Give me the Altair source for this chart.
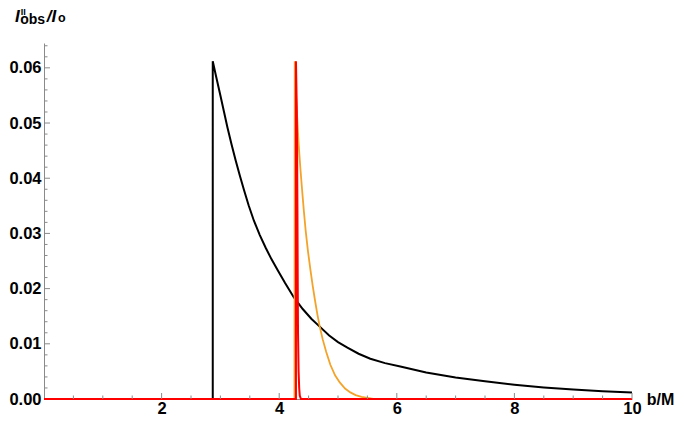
import altair as alt
import pandas as pd

# ---- data ----
black_b = [0.0, 2.87, 2.87, 2.93, 3.00, 3.06, 3.12, 3.19, 3.26, 3.33, 3.40, 3.48, 3.57, 3.67,
           3.77, 3.87, 3.97, 4.10, 4.25, 4.40, 4.55, 4.68, 4.85, 5.00, 5.16, 5.35, 5.55,
           5.80, 6.06, 6.50, 7.00, 7.50, 8.00, 8.50, 9.00, 9.50, 10.0]
black_v = [0.0, 0.0, 0.0612, 0.0583, 0.0550, 0.0521, 0.0492, 0.0461, 0.0432, 0.0405, 0.0379,
           0.0351, 0.0323, 0.0297, 0.0274, 0.0253, 0.0234, 0.0210, 0.0184, 0.0163, 0.0145,
           0.0132, 0.0115, 0.0103, 0.0093, 0.0082, 0.0073, 0.0065, 0.0059, 0.0048, 0.0039,
           0.0032, 0.0026, 0.0021, 0.0017, 0.0014, 0.0012]

orange_b = [0.0, 4.26, 4.265, 4.28, 4.30, 4.33, 4.36, 4.39, 4.42, 4.45, 4.49, 4.53, 4.57,
            4.61, 4.65, 4.69, 4.74, 4.80, 4.87, 4.95, 5.03, 5.12, 5.21, 5.30, 5.40, 5.50,
            5.60, 10.0]
orange_v = [0.0, 0.0, 0.0612, 0.0566, 0.0522, 0.0463, 0.0418, 0.0378, 0.0340, 0.0305, 0.0267,
            0.0235, 0.0205, 0.0178, 0.0153, 0.0131, 0.0108, 0.0085, 0.0062, 0.0043, 0.0030,
            0.0019, 0.0012, 0.0007, 0.0004, 0.0002, 0.0, 0.0]

red_b = [0.0, 4.285, 4.285, 4.30, 4.31, 4.315, 4.32, 4.33, 4.34, 4.35, 4.37, 10.0]
red_v = [0.0, 0.0, 0.0612, 0.052, 0.035, 0.022, 0.012, 0.005, 0.002, 0.0006, 0.0, 0.0]

x_major = [2, 4, 6, 8, 10]
x_minor = [0.5, 1.0, 1.5, 2.5, 3.0, 3.5, 4.5, 5.0, 5.5, 6.5, 7.0, 7.5, 8.5, 9.0, 9.5]
y_labels = [0.0, 0.01, 0.02, 0.03, 0.04, 0.05, 0.06]
y_major = [0.01, 0.02, 0.03, 0.04, 0.05, 0.06]
y_minor = [0.002, 0.004, 0.006, 0.008, 0.012, 0.014, 0.016, 0.018, 0.022, 0.024, 0.026,
           0.028, 0.032, 0.034, 0.036, 0.038, 0.042, 0.044, 0.046, 0.048, 0.052, 0.054,
           0.056, 0.058, 0.062, 0.064]

series_names = ["black", "orange", "red"]
series_colors = ["#000000", "#F4A32A", "#FF0000"]
series_widths = [2.0, 1.8, 2.0]

# ---- build tables ----
rows = []
for name, bs, vs in zip(series_names, [black_b, orange_b, red_b], [black_v, orange_v, red_v]):
    for i, (b, v) in enumerate(zip(bs, vs)):
        rows.append({"b": b, "v": v, "series": name, "idx": i})
df = pd.DataFrame(rows)

W, H = 588, 356
FONT = "Liberation Sans"
GRAY = "#8a8a8a"

xscale = alt.Scale(domain=[0, 10], nice=False, zero=False)
yscale = alt.Scale(domain=[0, 0.0645], nice=False, zero=False)

x_axis = alt.Axis(values=x_major, ticks=False, grid=False, domainColor=GRAY, domainWidth=1,
                  labelFont=FONT, labelFontSize=16.5, labelFontWeight="bold",
                  labelColor="#000000", labelPadding=1.5, labelFlush=False)
y_axis = alt.Axis(values=y_labels, format=".2f", ticks=False, grid=False, domainColor=GRAY,
                  domainWidth=1, labelFont=FONT, labelFontSize=16.5, labelFontWeight="bold",
                  labelColor="#000000", labelPadding=3, labelFlush=False)

base = alt.Chart(df)
lines = []
for name, col, w in zip(series_names, series_colors, series_widths):
    lines.append(
        base.transform_filter(alt.datum.series == name)
        .mark_line(color=col, strokeWidth=w, strokeJoin="miter")
        .encode(
            x=alt.X("b:Q", scale=xscale, axis=x_axis, title=None),
            y=alt.Y("v:Q", scale=yscale, axis=y_axis, title=None),
            order="idx:Q",
        )
    )

def xticks(vals, length):
    return alt.Chart(pd.DataFrame({"b": vals})).mark_rule(color=GRAY, strokeWidth=1).encode(
        x=alt.X("b:Q", scale=xscale, axis=x_axis, title=None),
        y=alt.value(H), y2=alt.value(H - length))

def yticks(vals, length):
    return alt.Chart(pd.DataFrame({"v": vals})).mark_rule(color=GRAY, strokeWidth=1).encode(
        y=alt.Y("v:Q", scale=yscale, axis=y_axis, title=None),
        x=alt.value(0), x2=alt.value(length))

def label(text, x, y, size, italic=False):
    return alt.Chart(pd.DataFrame({"t": [text]})).mark_text(
        font=FONT, fontSize=size, fontWeight="bold",
        fontStyle="italic" if italic else "normal",
        align="left", baseline="alphabetic", color="#000000"
    ).encode(text="t:N", x=alt.value(x), y=alt.value(y))

texts = [
    label("I", -29.0, -20.8, 17, italic=True),
    label("II", -23.3, -28.3, 9),
    label("obs", -23.8, -19.3, 14),
    label("/I", 2.7, -21.3, 17, italic=True),
    label("o", 13.9, -21.3, 12.5),
    label("b/M", 602.7, 361.5, 16),
]

chart = alt.layer(
    *lines,
    xticks(x_major, 6), xticks(x_minor, 3.5), yticks(y_major, 6), yticks(y_minor, 3.5),
    *texts
).properties(
    width=W, height=H,
    padding={"left": 36, "top": 35, "right": 44, "bottom": 17},
    autosize=alt.AutoSizeParams(type="none"),
    background="#ffffff",
).configure_view(strokeWidth=0)

chart.save("out.html", embed_options={"renderer": "svg", "actions": False})
